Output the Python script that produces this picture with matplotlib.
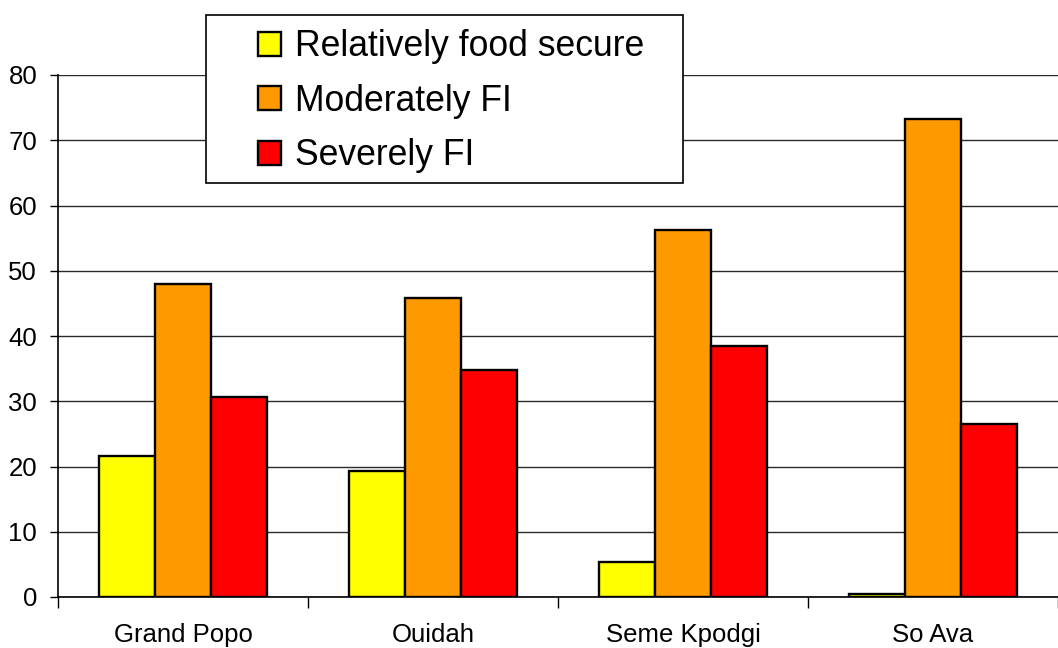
import matplotlib.pyplot as plt
import numpy as np
from matplotlib.patches import Rectangle

# Food security status by commune (% of households)
communes = ['Grand Popo', 'Ouidah', 'Seme Kpodgi', 'So Ava']
series = ['Relatively food secure', 'Moderately FI', 'Severely FI']
food_secure = [21.6, 19.3, 5.4, 0.4]
moderately_fi = [48.0, 45.8, 56.2, 73.3]
severely_fi = [30.6, 34.8, 38.5, 26.5]
colors = ['#FFFF00', '#FF9900', '#FF0000']
y_ticks = [0, 10, 20, 30, 40, 50, 60, 70, 80]

plt.rcParams['font.family'] = ['Liberation Sans', 'DejaVu Sans']

fig = plt.figure(figsize=(10.58, 6.48), dpi=100)
ax = fig.add_axes([58 / 1058, 51 / 648, 1000 / 1058, 522 / 648])

x = np.arange(len(communes))
width = 0.224
values = [food_secure, moderately_fi, severely_fi]
for i, (vals, col, name) in enumerate(zip(values, colors, series)):
    ax.bar(x + (i - 1) * width, vals, width, color=col, edgecolor='black',
           linewidth=1.7, label=name, zorder=3)

ax.set_xlim(-0.5, len(communes) - 0.5)
ax.set_ylim(0, 80)
ax.set_yticks(y_ticks)
ax.set_yticklabels([str(t) for t in y_ticks], fontsize=18.5)
ax.set_xticks(x)
ax.set_xticklabels(communes, fontsize=18.5)
ax.tick_params(axis='x', length=0, pad=19)
ax.tick_params(axis='y', length=6, width=1, pad=9)

# category separators on the x axis
ax.set_xticks(np.arange(len(communes) + 1) - 0.5, minor=True)
ax.tick_params(axis='x', which='minor', length=8, width=1, color='black')

ax.grid(axis='y', color='#2a2a2a', linewidth=1, zorder=0)
for s in ['top', 'right']:
    ax.spines[s].set_visible(False)
ax.spines['left'].set_linewidth(1.2)
ax.spines['bottom'].set_linewidth(1.2)

# legend box
fig.patches.append(Rectangle((206 / 1058, 1 - 183 / 648), 477 / 1058, 168 / 648,
                             transform=fig.transFigure, facecolor='white',
                             edgecolor='black', linewidth=1.2, zorder=5))
leg = fig.legend(loc='upper left', bbox_to_anchor=(258 / 1058, 1 - 29 / 648),
                 bbox_transform=fig.transFigure, frameon=False, fontsize=25.6,
                 handlelength=0.66, handleheight=0.66, handletextpad=0.38,
                 labelspacing=0.55, borderaxespad=0, borderpad=0)
leg.set_zorder(6)

fig.savefig('out.png', dpi=100, facecolor='white')
